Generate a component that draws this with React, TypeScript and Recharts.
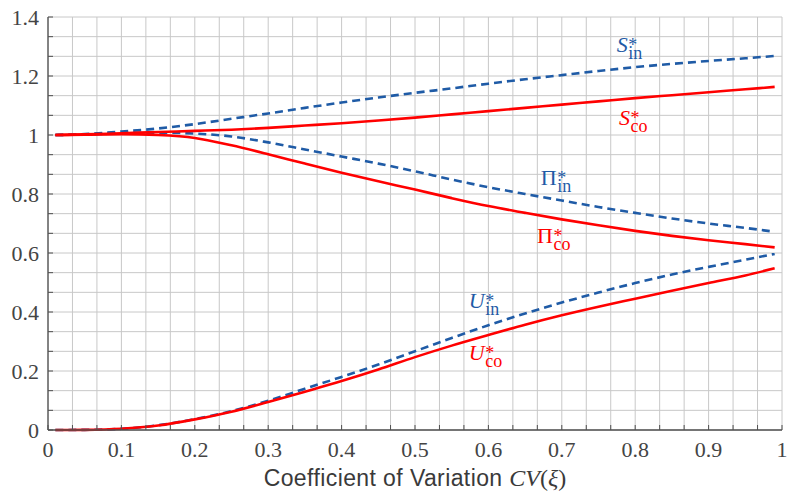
import { CartesianGrid, Label, Line, LineChart, ReferenceDot, XAxis, YAxis } from 'recharts'

// coefficient of variation CV(xi)
const cv = [0.01, 0.05, 0.1, 0.15, 0.2, 0.25, 0.3, 0.35, 0.4, 0.45, 0.5, 0.55, 0.6, 0.65, 0.7, 0.75, 0.8, 0.85, 0.9, 0.95, 0.99]

const sIn = [1.0, 1.003, 1.012, 1.022, 1.037, 1.055, 1.073, 1.092, 1.11, 1.127, 1.143, 1.158, 1.174, 1.189, 1.203, 1.217, 1.23, 1.241, 1.251, 1.26, 1.268]
const sCo = [1.0, 1.002, 1.006, 1.01, 1.014, 1.018, 1.024, 1.032, 1.04, 1.049, 1.059, 1.07, 1.081, 1.092, 1.103, 1.114, 1.125, 1.135, 1.145, 1.155, 1.163]
const piIn = [1.0, 1.002, 1.006, 1.008, 1.005, 0.995, 0.975, 0.951, 0.927, 0.903, 0.877, 0.849, 0.823, 0.8, 0.778, 0.756, 0.736, 0.717, 0.7, 0.685, 0.672]
const piCo = [1.0, 1.001, 1.003, 1.0, 0.99, 0.965, 0.935, 0.903, 0.872, 0.843, 0.815, 0.786, 0.759, 0.736, 0.714, 0.694, 0.675, 0.658, 0.643, 0.63, 0.619]
const uIn = [0, 0.0005, 0.004, 0.016, 0.037, 0.064, 0.099, 0.14, 0.18, 0.222, 0.267, 0.312, 0.355, 0.395, 0.432, 0.466, 0.498, 0.527, 0.553, 0.577, 0.597]
const uCo = [0, 0.0005, 0.004, 0.015, 0.036, 0.062, 0.095, 0.13, 0.166, 0.205, 0.247, 0.286, 0.322, 0.357, 0.389, 0.418, 0.445, 0.472, 0.498, 0.524, 0.548]

const xMajor = [0, 0.1, 0.2, 0.3, 0.4, 0.5, 0.6, 0.7, 0.8, 0.9, 1]
const yMajor = [0, 0.2, 0.4, 0.6, 0.8, 1, 1.2, 1.4]

// series annotations: [x, y, main glyph, subscript, colour]
const labels: [number, number, string, string, string][] = [
  [0.79, 1.281, 'S', 'in', 'blue'],
  [0.793, 1.034, 'S', 'co', 'red'],
  [0.693, 0.831, 'Π', 'in', 'blue'],
  [0.688, 0.634, 'Π', 'co', 'red'],
  [0.595, 0.414, 'U', 'in', 'blue'],
  [0.595, 0.237, 'U', 'co', 'red'],
]

const BLUE = '#1f5ba6'
const RED = '#ff0000'
const AXIS = '#505050'
const SERIF = "'Liberation Serif', 'DejaVu Serif', serif"
const serifStyle = { fontFamily: SERIF }

const data = cv.map((x, i) => ({
  x,
  sIn: sIn[i],
  sCo: sCo[i],
  piIn: piIn[i],
  piCo: piCo[i],
  uIn: uIn[i],
  uCo: uCo[i],
}))

// two minor ticks between every pair of major ticks
const withMinor = (major: number[]) =>
  major
    .slice(0, -1)
    .flatMap((v, i) => {
      const step = (major[i + 1] - v) / 3
      return [v, v + step, v + 2 * step]
    })
    .concat(major[major.length - 1])

const xTicks = withMinor(xMajor)
const yTicks = withMinor(yMajor)

const majorLabel = (major: number[], v: number) => {
  const m = major.find((t) => Math.abs(t - v) < 1e-6)
  return m === undefined ? '' : String(m)
}

function XTick(props: any) {
  const { x, y, payload } = props
  return (
    <text x={x} y={y} dy="0.71em" textAnchor="middle" fill="#444" fontSize={22} style={serifStyle}>
      {majorLabel(xMajor, payload.value)}
    </text>
  )
}

function YTick(props: any) {
  const { x, y, payload } = props
  return (
    <text x={x} y={y} dy="0.35em" textAnchor="end" fill="#444" fontSize={22} style={serifStyle}>
      {majorLabel(yMajor, payload.value)}
    </text>
  )
}

function AxisTitle(props: any) {
  const { x, y, width } = props.viewBox
  return (
    <text x={x + width / 2} y={y + 56} textAnchor="middle" fill="#3a3a3a" fontSize={23}>
      <tspan style={{ fontFamily: "'Liberation Sans', sans-serif" }} letterSpacing={0.4}>
        Coefficient of Variation{' '}
      </tspan>
      <tspan style={serifStyle} fontStyle="italic" fontSize={24}>CV</tspan>
      <tspan style={serifStyle} fontSize={24}>(</tspan>
      <tspan style={serifStyle} fontStyle="italic" fontSize={24}>ξ</tspan>
      <tspan style={serifStyle} fontSize={24}>)</tspan>
    </text>
  )
}

// main glyph, then a stacked superscript star and subscript, all in one text
function seriesLabel(main: string, sub: string, color: string) {
  return (props: any) => {
    const { cx, cy } = props
    return (
      <text fill={color} style={serifStyle}>
        <tspan x={cx} y={cy} textAnchor="end" fontSize={22} fontStyle={main === 'Π' ? 'normal' : 'italic'}>
          {main}
        </tspan>
        <tspan x={cx + 0.5} y={cy - 1} textAnchor="start" fontSize={18}>
          *
        </tspan>
        <tspan x={cx + 0.5} y={cy + 7} textAnchor="start" fontSize={18}>
          {sub}
        </tspan>
      </text>
    )
  }
}

export default function App() {
  return (
    <div style={{ position: 'absolute', left: 0, top: 0, width: 789, height: 497, background: '#fff' }}>
      <LineChart width={789} height={497} data={data} margin={{ top: 17, right: 7, bottom: 0, left: 0 }}>
        <CartesianGrid stroke="#c8c8c8" strokeWidth={1} />
        <XAxis
          dataKey="x"
          type="number"
          domain={[0, 1]}
          ticks={xTicks}
          interval={0}
          tickSize={-5}
          tickMargin={16}
          height={67}
          axisLine={{ stroke: AXIS, strokeWidth: 1.3 }}
          tickLine={{ stroke: AXIS }}
          tick={<XTick />}
        >
          <Label content={AxisTitle} />
        </XAxis>
        <XAxis
          xAxisId="top"
          orientation="top"
          type="number"
          domain={[0, 1]}
          ticks={xTicks}
          interval={0}
          tick={false}
          tickSize={-5}
          height={0}
          axisLine={{ stroke: AXIS, strokeWidth: 1.3 }}
          tickLine={{ stroke: AXIS }}
        />
        <YAxis
          type="number"
          domain={[0, 1.4]}
          ticks={yTicks}
          interval={0}
          tickSize={-5}
          tickMargin={14}
          width={48}
          axisLine={{ stroke: AXIS, strokeWidth: 1.3 }}
          tickLine={{ stroke: AXIS }}
          tick={<YTick />}
        />
        <YAxis
          yAxisId="right"
          orientation="right"
          type="number"
          domain={[0, 1.4]}
          ticks={yTicks}
          interval={0}
          tick={false}
          tickSize={-5}
          width={0}
          axisLine={{ stroke: AXIS, strokeWidth: 1.3 }}
          tickLine={{ stroke: AXIS }}
        />
        <Line dataKey="sIn" type="monotone" stroke={BLUE} strokeWidth={2.6} strokeDasharray="8 5" dot={false} isAnimationActive={false} />
        <Line dataKey="piIn" type="monotone" stroke={BLUE} strokeWidth={2.6} strokeDasharray="8 5" dot={false} isAnimationActive={false} />
        <Line dataKey="uIn" type="monotone" stroke={BLUE} strokeWidth={2.6} strokeDasharray="8 5" dot={false} isAnimationActive={false} />
        <Line dataKey="sCo" type="monotone" stroke={RED} strokeWidth={2.6} dot={false} isAnimationActive={false} />
        <Line dataKey="piCo" type="monotone" stroke={RED} strokeWidth={2.6} dot={false} isAnimationActive={false} />
        <Line dataKey="uCo" type="monotone" stroke={RED} strokeWidth={2.6} dot={false} isAnimationActive={false} />
        {labels.map(([x, y, main, sub, c]) => (
          <ReferenceDot
            key={main + sub}
            x={x}
            y={y}
            r={0}
            ifOverflow="visible"
            shape={seriesLabel(main, sub, c === 'blue' ? BLUE : RED)}
          />
        ))}
      </LineChart>
    </div>
  )
}
